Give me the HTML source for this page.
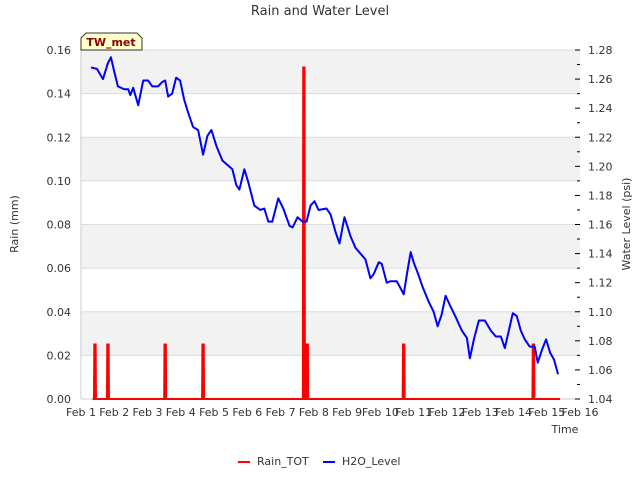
<!DOCTYPE html>
<html><head><meta charset="utf-8"><style>
body{margin:0;background:#fff;font-family:"Liberation Sans","DejaVu Sans",sans-serif;}
svg text{font-family:"DejaVu Sans","Liberation Sans",sans-serif;}
</style></head><body>
<svg id="c" width="640" height="480" xmlns="http://www.w3.org/2000/svg">
<text x="320" y="15" text-anchor="middle" font-size="13" fill="#333">Rain and Water Level</text>
<g id="bands"></g><g id="grid"></g><g id="ticks"></g><g id="series"></g>
<text x="565" y="433" text-anchor="middle" font-size="11" fill="#333">Time</text>
<text transform="translate(18,224) rotate(-90)" text-anchor="middle" font-size="11" fill="#333">Rain (mm)</text>
<text transform="translate(630,224) rotate(-90)" text-anchor="middle" font-size="11" fill="#333">Water Level (psi)</text>
<g>
<path d="M81,50 L81,38 L86,33 L137,33 L142,38 L142,50 Z" fill="#ffffcc" stroke="#333" stroke-width="1"/>
<text x="111" y="46" text-anchor="middle" font-size="11" font-weight="bold" fill="#8b0000">TW_met</text>
</g>
<g>
<line x1="238" y1="462" x2="250" y2="462" stroke="red" stroke-width="2"/>
<text x="257" y="465" font-size="11" fill="#333">Rain_TOT</text>
<line x1="323" y1="462" x2="335" y2="462" stroke="blue" stroke-width="2"/>
<text x="342" y="465" font-size="11" fill="#333">H2O_Level</text>
</g>
</svg>
<script>
const xTickLabels=["Feb 1","Feb 2","Feb 3","Feb 4","Feb 5","Feb 6","Feb 7","Feb 8","Feb 9","Feb 10","Feb 11","Feb 12","Feb 13","Feb 14","Feb 15","Feb 16"];
const rainTicks=[0,0.02,0.04,0.06,0.08,0.10,0.12,0.14,0.16];
const levelTicks=[1.04,1.06,1.08,1.10,1.12,1.14,1.16,1.18,1.20,1.22,1.24,1.26,1.28];
const rainDays=[1.42,1.81,3.53,4.67,7.70,7.80,10.70,14.60];
const rainVals=[0.025,0.025,0.025,0.025,0.152,0.025,0.025,0.025];
const levelDays=[1.30,1.48,1.66,1.81,1.90,1.99,2.11,2.30,2.42,2.48,2.57,2.72,2.87,3.02,3.14,3.32,3.44,3.53,3.62,3.74,3.86,3.98,4.10,4.22,4.37,4.52,4.67,4.80,4.92,5.07,5.25,5.40,5.55,5.67,5.76,5.91,6.03,6.21,6.39,6.51,6.63,6.75,6.93,7.08,7.27,7.36,7.51,7.66,7.78,7.90,8.02,8.14,8.38,8.50,8.65,8.77,8.92,9.10,9.25,9.40,9.55,9.70,9.80,9.95,10.04,10.19,10.31,10.49,10.61,10.70,10.82,10.91,11.00,11.15,11.27,11.45,11.60,11.72,11.84,11.96,12.08,12.27,12.45,12.60,12.69,12.81,12.96,13.14,13.32,13.47,13.62,13.74,13.86,13.98,14.10,14.22,14.34,14.49,14.64,14.73,14.86,14.98,15.10,15.22,15.34];
const levelVals=[1.268,1.267,1.260,1.271,1.275,1.266,1.255,1.253,1.253,1.249,1.254,1.242,1.259,1.259,1.255,1.255,1.258,1.259,1.248,1.250,1.261,1.259,1.246,1.237,1.227,1.225,1.208,1.221,1.225,1.214,1.204,1.201,1.198,1.187,1.184,1.198,1.189,1.173,1.170,1.171,1.162,1.162,1.178,1.171,1.159,1.158,1.165,1.162,1.162,1.173,1.176,1.170,1.171,1.167,1.155,1.147,1.165,1.152,1.144,1.140,1.136,1.123,1.126,1.134,1.133,1.120,1.121,1.121,1.116,1.112,1.129,1.141,1.134,1.125,1.117,1.107,1.100,1.090,1.098,1.111,1.105,1.096,1.087,1.082,1.068,1.081,1.094,1.094,1.087,1.083,1.083,1.075,1.087,1.099,1.097,1.087,1.081,1.076,1.076,1.065,1.074,1.081,1.072,1.067,1.057];
const L=81,R=580,T=50,B=399;
const xs=d=>L+(d-1)/15*(R-L);
const yRain=v=>B-v/0.16*(B-T);
const yLev=v=>B-(v-1.04)/0.24*(B-T);
const NS="http://www.w3.org/2000/svg";
function mk(tag,attrs,parent){const e=document.createElementNS(NS,tag);for(const k in attrs)e.setAttribute(k,attrs[k]);document.getElementById(parent).appendChild(e);return e;}
for(let i=0;i<rainTicks.length-1;i++){if(i%2===1){const r=mk('rect',{x:L,y:yRain(rainTicks[i+1]),width:R-L,height:yRain(rainTicks[i])-yRain(rainTicks[i+1]),fill:'#f2f2f2'},'bands');

}}
rainTicks.forEach(v=>{const y=yRain(v);const g=mk('line',{x1:L,x2:R,y1:y,y2:y,stroke:'#dcdcdc','stroke-width':1},'grid');


const t=mk('text',{x:L-10,y:y+4,'text-anchor':'end','font-size':11,fill:'#333'},'ticks');t.textContent=v.toFixed(2);

});
const ax=mk('line',{x1:L,x2:L,y1:T,y2:B,stroke:'#ccc'},'grid');


const ax2=mk('line',{x1:L,x2:R,y1:B,y2:B,stroke:'#ccc'},'grid');


levelTicks.forEach((v,i)=>{const y=yLev(v);const tk=mk('line',{x1:R-5,x2:R,y1:y,y2:y,stroke:'#000'},'ticks');


if(i<levelTicks.length-1){const ym=yLev(v+0.01);const m=mk('line',{x1:R-3,x2:R,y1:ym,y2:ym,stroke:'#000'},'ticks');

}
const t=mk('text',{x:R+8,y:y+4,'font-size':11,fill:'#333'},'ticks');t.textContent=v.toFixed(2);

});
xTickLabels.forEach((s,i)=>{const t=mk('text',{x:xs(i+1),y:B+17,'text-anchor':'middle','font-size':11,fill:'#333'},'ticks');t.textContent=s;

});
let rp=[[xs(1.35),yRain(0)]];
rainDays.forEach((d,i)=>{rp.push([xs(d-0.03),yRain(0)],[xs(d-0.02),yRain(rainVals[i])],[xs(d+0.02),yRain(rainVals[i])],[xs(d+0.03),yRain(0)]);});
rp.push([xs(15.4),yRain(0)]);
const rl=mk('polyline',{points:rp.map(p=>p.join(',')).join(' '),fill:'none',stroke:'red','stroke-width':2},'series');


const lp=levelDays.map((d,i)=>xs(d)+','+yLev(levelVals[i])).join(' ');
const ll=mk('polyline',{points:lp,fill:'none',stroke:'blue','stroke-width':2,'stroke-linejoin':'round'},'series');


</script>
</body></html>
